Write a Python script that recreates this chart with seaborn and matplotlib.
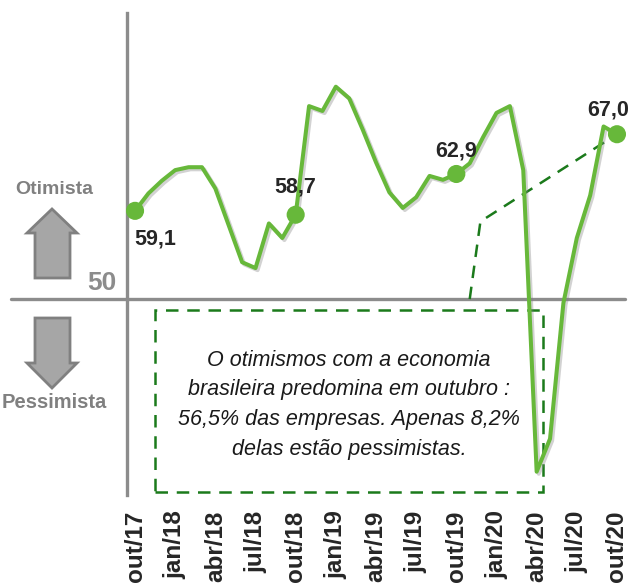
import pandas as pd
import matplotlib
matplotlib.use('Agg')
import matplotlib.pyplot as plt
import matplotlib.patheffects as pe
from matplotlib.patches import Polygon, Rectangle
import seaborn as sns


# indice mensal out/17 -> out/20
valores = [59.1, 60.9, 62.2, 63.3, 63.6, 63.6, 61.4, 57.6, 53.8, 53.2, 57.8, 56.3,
           58.7, 69.9, 69.4, 71.9, 70.7, 67.5, 64.1, 61.0, 59.4, 60.5, 62.7, 62.3,
           62.9, 64.0, 66.7, 69.2, 69.9, 63.3, 32.2, 35.6, 49.6, 56.3, 60.7, 67.8,
           67.0]
meses_label = ['out/17', 'jan/18', 'abr/18', 'jul/18', 'out/18', 'jan/19', 'abr/19',
               'jul/19', 'out/19', 'jan/20', 'abr/20', 'jul/20', 'out/20']
destaques = [0, 12, 24, 36]
destaques_txt = ['59,1', '58,7', '62,9', '67,0']
texto_box = ('O otimismos com a economia\n'
             'brasileira predomina em outubro :\n'
             '56,5% das empresas. Apenas 8,2%\n'
             'delas estão pessimistas.')

VERDE = '#67B83A'
VERDE_ESC = '#1B7A1B'
CINZA = '#8C8C8C'
W, H = 633, 588

sns.set_style('white')
plt.rcParams['font.family'] = ['Liberation Sans', 'DejaVu Sans']

df = pd.DataFrame({'mes': range(len(valores)), 'valor': valores})
pts = df.loc[destaques]


def px(x, y):
    return (x / W, 1 - y / H)


fig = plt.figure(figsize=(W / 100, H / 100), dpi=100)
ax = fig.add_axes([127 / W, 1 - 495 / H, 498 / W, 482 / H])

# linha do 50
ax.plot([-9.3, 36.6], [50, 50], color=CINZA, lw=2.4, clip_on=False, zorder=1)

sns.lineplot(data=df, x='mes', y='valor', ax=ax, color=VERDE, lw=2.9, zorder=3,
             path_effects=[pe.SimpleLineShadow(offset=(1.5, -1.5), shadow_color='gray', alpha=0.35),
                           pe.Normal()])
sns.scatterplot(data=pts, x='mes', y='valor', ax=ax, color=VERDE, s=170,
                edgecolor='none', zorder=4, clip_on=False)

offs = [(1.5, -2.9), (0.0, 2.9), (0.0, 2.4), (-0.65, 2.5)]
for (i, r), t, (dx, dy) in zip(pts.iterrows(), destaques_txt, offs):
    ax.text(r['mes'] + dx, r['valor'] + dy, t, ha='center', va='center',
            fontsize=15.5, fontweight='bold', color='#262626', zorder=5)

# caixa com comentario
ax.add_patch(Rectangle((1.5, 30.1), 29.0, 18.8, fill=False, ec=VERDE_ESC, lw=1.8,
                       linestyle=(0, (5, 3.5)), zorder=2))
ax.text(16.0, 39.1, texto_box, ha='center', va='center', fontsize=15.5,
        fontstyle='italic', color='#1a1a1a', linespacing=1.55, zorder=5)
ax.plot([25.0, 25.8, 36], [50, 58.0, 67.0], color=VERDE_ESC, lw=1.8,
        linestyle=(0, (5, 3.5)), zorder=2)

ax.set_xlim(-0.6, 36.6)
ax.set_ylim(29.8, 79.5)
ax.set_xticks(range(0, 37, 3))
ax.set_xticklabels(meses_label, rotation=90, fontsize=17.5, fontweight='bold', color='#262626')
ax.tick_params(axis='x', length=0, pad=11)
ax.set_yticks([])
ax.set_xlabel('')
ax.set_ylabel('')
for s in ['top', 'right', 'bottom']:
    ax.spines[s].set_visible(False)
ax.spines['left'].set_color(CINZA)
ax.spines['left'].set_linewidth(2.4)

# setas e rotulos
seta_cima = [(52, 209), (77, 233), (70, 233), (70, 278), (35, 278), (35, 233), (27, 233)]
seta_baixo = [(35, 318), (70, 318), (70, 363), (77, 363), (52, 388), (27, 363), (35, 363)]
for s in [seta_cima, seta_baixo]:
    fig.add_artist(Polygon([px(*p) for p in s], closed=True, transform=fig.transFigure,
                           fc='#A6A6A6', ec='#808080', lw=2))

fig.text(*px(54, 190), 'Otimista', ha='center', va='center', fontsize=14,
         fontweight='bold', color='#808080')
fig.text(*px(2, 402), 'Pessimista', ha='left', va='center', fontsize=14.5,
         fontweight='bold', color='#808080')
fig.text(*px(102, 283), '50', ha='center', va='center', fontsize=19,
         fontweight='bold', color='#8C8C8C')

fig.savefig('out.png', dpi=100)
